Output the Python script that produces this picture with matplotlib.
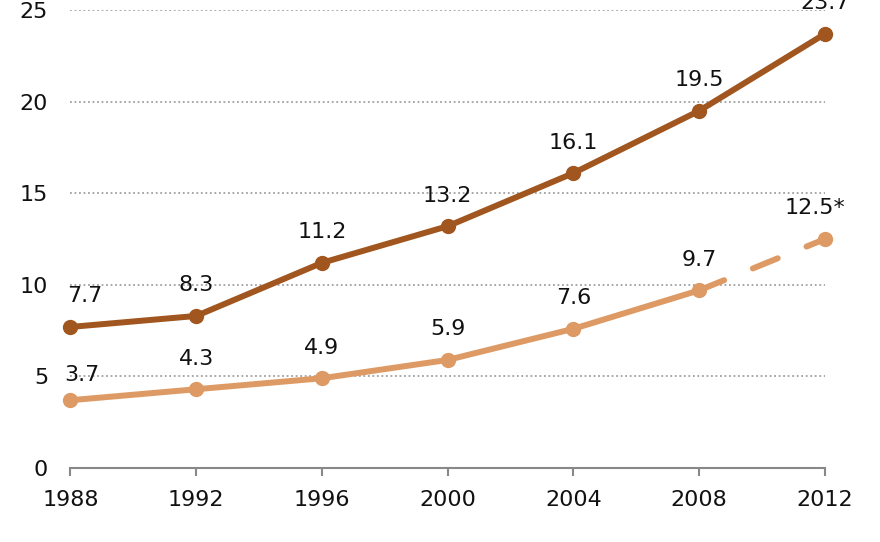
import matplotlib.pyplot as plt

years = [1988, 1992, 1996, 2000, 2004, 2008, 2012]
dark_vals = [7.7, 8.3, 11.2, 13.2, 16.1, 19.5, 23.7]
light_vals = [3.7, 4.3, 4.9, 5.9, 7.6, 9.7, 12.5]
light_labels = ['3.7', '4.3', '4.9', '5.9', '7.6', '9.7', '12.5*']
dark_labels = ['7.7', '8.3', '11.2', '13.2', '16.1', '19.5', '23.7']
yticks = [0, 5, 10, 15, 20, 25]

dark = '#a0561e'
light = '#de9a64'

fig = plt.figure(figsize=(8.8, 5.42), dpi=100)
ax = fig.add_axes([0.08, 0.1365, 0.8575, 0.845])

# grid
for y in yticks[1:]:
    ax.axhline(y, color='#a0a0a0', lw=1.3, ls=(0, (1, 1.5)), zorder=1)

ax.plot(years, dark_vals, color=dark, lw=4.3, marker='o', ms=10,
        solid_capstyle='round', clip_on=False, zorder=3)
ax.plot(years[:-1], light_vals[:-1], color=light, lw=4.3, marker='o', ms=10,
        solid_capstyle='round', clip_on=False, zorder=3)
ax.plot(years[-2:], light_vals[-2:], color=light, lw=4.3, ls=(0, (4.5, 5.2)),
        dash_capstyle='round', clip_on=False, zorder=3)
ax.plot(years[-1:], light_vals[-1:], color=light, marker='o', ms=10,
        clip_on=False, zorder=3)

for i, (x, v) in enumerate(zip(years, dark_vals)):
    dx = 10 if i == 0 else 0
    ax.annotate(dark_labels[i], (x, v), xytext=(dx, 22), textcoords='offset points',
                ha='center', va='center', fontsize=16, color='#111111',
                annotation_clip=False)
for i, (x, v) in enumerate(zip(years, light_vals)):
    dx, dy = 0, 22
    if i == 0:
        dx, dy = 8, 18
    if i == len(years) - 1:
        dx = -7
    ax.annotate(light_labels[i], (x, v), xytext=(dx, dy), textcoords='offset points',
                ha='center', va='center', fontsize=16, color='#111111',
                annotation_clip=False)

ax.set_xlim(1988, 2012)
ax.set_ylim(0, 25)
ax.set_xticks(years)
ax.set_yticks(yticks)
for s in ['top', 'right', 'left']:
    ax.spines[s].set_visible(False)
ax.spines['bottom'].set_color('#888888')
ax.spines['bottom'].set_linewidth(1.5)
ax.tick_params(axis='x', colors='#888888', length=6, width=1.5, pad=10,
               labelsize=16, labelcolor='#111111')
ax.tick_params(axis='y', length=0, pad=16, labelsize=16, labelcolor='#111111')

fig.savefig('out.png', dpi=100)
